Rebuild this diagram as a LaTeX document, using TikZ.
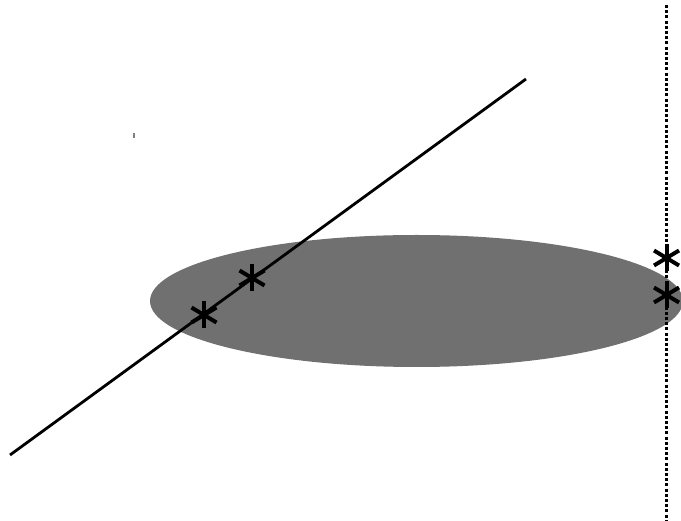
\documentclass[tikz,border=0pt]{standalone}
\usetikzlibrary{calc}
\definecolor{blobgray}{RGB}{112,112,112}
\tikzset{
  axisline/.style={line width=2.8pt},
  dotline/.style={line width=3pt, dash pattern=on 3pt off 2.2pt},
  blob/.style={fill=blobgray, draw=none},
  starmark/.pic={
    \draw[line width=4pt] (0,-13.5) -- (0,13.5);
    \draw[line width=4pt] (-12.5,-7.5) -- (12.5,7.5);
    \draw[line width=4pt] (-12.5,7.5) -- (12.5,-7.5);
  }
}
\begin{document}
\begin{tikzpicture}[x=1pt,y=-1pt]
\useasboundingbox (0,0) rectangle (681,521);
\clip (0,0) rectangle (681,521);
\fill[white] (0,0) rectangle (681,521);
% ellipse
\fill[blob] (416.5,301) ellipse [x radius=266.5, y radius=66];
% small mark
\draw[gray, line width=1.4pt] (134,133.5) -- (134,138.5);
% line
\coordinate (L0) at (10,455);
\coordinate (L1) at (526,79);
\draw[axisline] (L0) -- (L1);
% dotted vertical line
\coordinate (D0) at (666.5,5);
\coordinate (D1) at (666.5,521);
\draw[dotline] (D0) -- (D1);
% asterisks
\coordinate (S1) at (204,315);
\coordinate (S2) at (252,278);
\coordinate (S3) at (666.5,258);
\coordinate (S4) at (666.5,295);
\foreach \s in {S1,S2,S3,S4} \pic at (\s) {starmark};
\end{tikzpicture}
\end{document}
